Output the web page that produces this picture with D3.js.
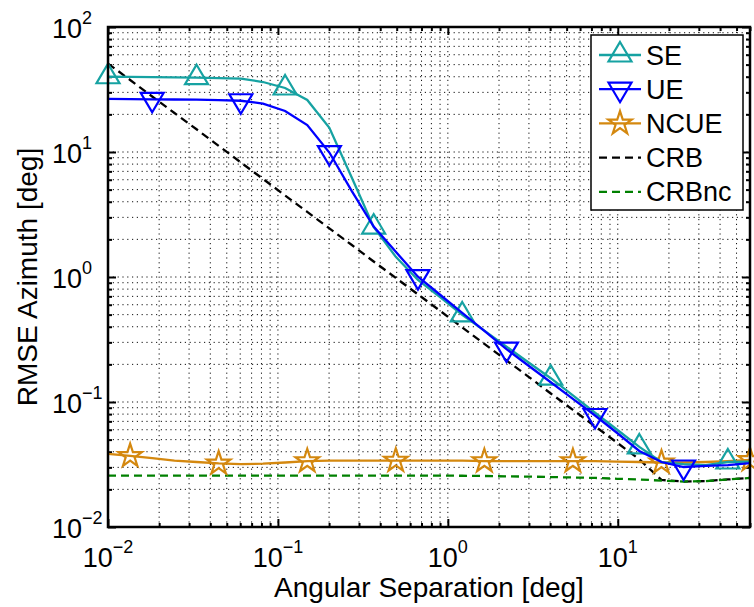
<!DOCTYPE html>
<html>
<head>
<meta charset="utf-8">
<script src="https://cdn.jsdelivr.net/npm/d3@7"></script>
<style>
  body { margin: 0; background: #fff; }
  text { font-family: "Liberation Sans", Arial, Helvetica, sans-serif; fill: #000; }
</style>
</head>
<body>
<svg id="chart" width="754" height="607"></svg>
<script>
// angular separation [deg], 30 points from 0.01 to 60
const sepDeg = [0.0100, 0.0135, 0.0182, 0.0246, 0.0332, 0.0448, 0.0605, 0.0817, 0.1102, 0.1488,
                0.2008, 0.2711, 0.3659, 0.4939, 0.6667, 0.9000, 1.2148, 1.6399, 2.2135, 2.9879,
                4.0332, 5.4440, 7.3486, 9.9191, 13.389, 18.074, 24.397, 32.932, 44.452, 60.000];

const seVals = [40.0, 39.9, 39.7, 39.5, 39.3, 39.0, 38.6, 36.3, 32.5, 26.1,
                15.6, 6.3, 2.51, 1.45, 0.946, 0.69, 0.497, 0.372, 0.277, 0.207,
                0.155, 0.113, 0.082, 0.060, 0.0437, 0.0331, 0.0319, 0.0313, 0.0331, 0.0334];

const ueVals = [26.6, 26.5, 26.4, 26.3, 26.2, 26.0, 25.7, 24.4, 21.3, 16.4,
                9.9, 4.91, 2.53, 1.59, 1.006, 0.721, 0.516, 0.371, 0.265, 0.195,
                0.144, 0.106, 0.078, 0.0565, 0.0406, 0.0331, 0.0302, 0.0308, 0.0313, 0.0324];

const ncueVals = [0.0384, 0.0370, 0.0356, 0.0340, 0.0331, 0.0323, 0.0319, 0.0321, 0.0328, 0.0337,
                  0.0340, 0.0340, 0.0340, 0.0340, 0.0340, 0.0340, 0.0340, 0.0337, 0.0337, 0.0337,
                  0.0337, 0.0337, 0.0337, 0.0334, 0.0331, 0.0328, 0.0328, 0.0331, 0.0337, 0.0344];

const crbVals = [51.0, 37.7, 27.8, 20.5, 15.2, 11.2, 8.25, 6.09, 4.49, 3.32,
                 2.45, 1.81, 1.33, 0.984, 0.726, 0.536, 0.395, 0.292, 0.215, 0.159,
                 0.117, 0.0866, 0.0639, 0.0472, 0.0348, 0.0238, 0.0231, 0.0233, 0.0240, 0.0247];

const crbncVals = [0.0258, 0.0258, 0.0258, 0.0258, 0.0258, 0.0258, 0.0258, 0.0258, 0.0258, 0.0258,
                   0.0258, 0.0258, 0.0258, 0.0258, 0.0258, 0.0258, 0.0257, 0.0256, 0.0254, 0.0253,
                   0.0251, 0.0249, 0.0247, 0.0243, 0.0240, 0.0235, 0.0231, 0.0233, 0.0240, 0.0247];

// which points carry a marker
const seMarks = [0, 4, 8, 12, 16, 20, 24, 28];
const ncueMarks = [1, 5, 9, 13, 17, 21, 25, 29];
const ueMarks = [2, 6, 10, 14, 18, 22, 26];

const xMajor = [0.01, 0.1, 1, 10];
const xExp = ["−2", "−1", "0", "1"];
const yMajor = [0.01, 0.1, 1, 10, 100];
const yExp = ["−2", "−1", "0", "1", "2"];

const svg = d3.select("#chart");
const pLeft = 108, pRight = 750, pTop = 27, pBottom = 527;

const x = d3.scaleLog().domain([0.01, 60]).range([pLeft, pRight]);
const y = d3.scaleLog().domain([0.01, 100]).range([pBottom, pTop]);

// minor + major grid positions
function logTicks(lo, hi) {
  const out = [];
  for (let e = Math.floor(Math.log10(lo)); e <= Math.ceil(Math.log10(hi)); e++) {
    for (let k = 1; k <= 9; k++) {
      const v = k * Math.pow(10, e);
      if (v >= lo * 0.9999 && v <= hi * 1.0001) out.push(v);
    }
  }
  return out;
}
const xGrid = logTicks(0.01, 60);
const yGrid = logTicks(0.01, 100);
const xMinor = xGrid.filter(v => !xMajor.some(m => Math.abs(m - v) < 1e-9));
const yMinor = yGrid.filter(v => !yMajor.some(m => Math.abs(m - v) < 1e-9));

// dotted grid at every decade and sub-decade
const grid = svg.append("g");
grid.selectAll(".gx").data(xGrid).enter().append("line")
  .attr("x1", d => x(d)).attr("x2", d => x(d))
  .attr("y1", pTop).attr("y2", pBottom)
  .attr("stroke", "#111").attr("stroke-width", 1)
  .attr("stroke-dasharray", "1.2,3.6");
grid.selectAll(".gy").data(yGrid).enter().append("line")
  .attr("y1", d => y(d)).attr("y2", d => y(d))
  .attr("x1", pLeft).attr("x2", pRight)
  .attr("stroke", "#111").attr("stroke-width", 1)
  .attr("stroke-dasharray", "1.2,3.6");

// axes (ticks inside, box on)
function tickAxis(axis, vals, size, transform) {
  svg.append("g").attr("transform", transform)
    .call(axis.tickValues(vals).tickSize(size).tickFormat(""))
    .call(g => g.select(".domain").remove())
    .selectAll("line").attr("stroke", "#000").attr("stroke-width", 2);
}
tickAxis(d3.axisBottom(x), xMajor, -8, `translate(0,${pBottom})`);
tickAxis(d3.axisBottom(x), xMinor, -4, `translate(0,${pBottom})`);
tickAxis(d3.axisTop(x), xMajor, -8, `translate(0,${pTop})`);
tickAxis(d3.axisTop(x), xMinor, -4, `translate(0,${pTop})`);
tickAxis(d3.axisLeft(y), yMajor, -8, `translate(${pLeft},0)`);
tickAxis(d3.axisLeft(y), yMinor, -4, `translate(${pLeft},0)`);
tickAxis(d3.axisRight(y), yMajor, -8, `translate(${pRight},0)`);
tickAxis(d3.axisRight(y), yMinor, -4, `translate(${pRight},0)`);

// tick labels with superscripts
xMajor.forEach((v, i) => {
  const t = svg.append("text").attr("x", x(v)).attr("y", 567)
    .attr("text-anchor", "middle").attr("font-size", 27);
  t.append("tspan").text("10");
  t.append("tspan").attr("dy", -14).attr("font-size", 18).text(xExp[i]);
});
yMajor.forEach((v, i) => {
  const t = svg.append("text").attr("x", 52).attr("y", y(v) + 10.5)
    .attr("text-anchor", "start").attr("font-size", 27);
  t.append("tspan").text("10");
  t.append("tspan").attr("dy", -14).attr("font-size", 18).text(yExp[i]);
});

svg.append("text").attr("x", (pLeft + pRight) / 2).attr("y", 597)
  .attr("text-anchor", "middle").attr("font-size", 28)
  .text("Angular Separation [deg]");
svg.append("text").attr("transform", `translate(37,${(pTop + pBottom) / 2}) rotate(-90)`)
  .attr("text-anchor", "middle").attr("font-size", 28)
  .text("RMSE Azimuth [deg]");

// series
const series = [
  { name: "SE", vals: seVals, color: "#16A2A2", dash: null, marker: "up", marks: seMarks },
  { name: "UE", vals: ueVals, color: "#0000FF", dash: null, marker: "down", marks: ueMarks },
  { name: "NCUE", vals: ncueVals, color: "#D4880F", dash: null, marker: "star", marks: ncueMarks },
  { name: "CRB", vals: crbVals, color: "#000000", dash: "8,5", marker: null, marks: [] },
  { name: "CRBnc", vals: crbncVals, color: "#008000", dash: "8,5", marker: null, marks: [] }
];

const line = d3.line().x(d => x(d[0])).y(d => y(d[1]));

function markerPath(type) {
  if (type === "up") return "M0,-13L11.5,6.5L-11.5,6.5Z";
  if (type === "down") return "M0,13L11.5,-6.5L-11.5,-6.5Z";
  if (type === "star") return d3.symbol().type(d3.symbolStar).size(170)();
  return null;
}

// draw order: dashed bounds first, then estimators
[series[3], series[4], series[2], series[0], series[1]].forEach(s => {
  const pts = sepDeg.map((v, i) => [v, s.vals[i]]);
  svg.append("path").datum(pts)
    .attr("d", line)
    .attr("fill", "none")
    .attr("stroke", s.color)
    .attr("stroke-width", 2.3)
    .attr("stroke-dasharray", s.dash);
  if (s.marker) {
    svg.selectAll(null).data(s.marks.map(i => pts[i])).enter().append("path")
      .attr("d", markerPath(s.marker))
      .attr("transform", d => `translate(${x(d[0])},${y(d[1])})`)
      .attr("fill", "none")
      .attr("stroke", s.color)
      .attr("stroke-width", 2.2);
  }
});

// plot box
svg.append("rect").attr("x", pLeft).attr("y", pTop)
  .attr("width", pRight - pLeft).attr("height", pBottom - pTop)
  .attr("fill", "none").attr("stroke", "#000").attr("stroke-width", 2.5);

// legend
const lg = svg.append("g");
lg.append("rect").attr("x", 591).attr("y", 35).attr("width", 152).attr("height", 175)
  .attr("fill", "#fff").attr("stroke", "#000").attr("stroke-width", 1.5);
series.forEach((s, i) => {
  const cy = 55 + i * 34.2;
  lg.append("line").attr("x1", 599).attr("x2", 641).attr("y1", cy).attr("y2", cy)
    .attr("stroke", s.color).attr("stroke-width", 2.3)
    .attr("stroke-dasharray", s.dash);
  if (s.marker) {
    lg.append("path").attr("d", markerPath(s.marker))
      .attr("transform", `translate(620,${cy})`)
      .attr("fill", "none").attr("stroke", s.color).attr("stroke-width", 2.2);
  }
  lg.append("text").attr("x", 646).attr("y", cy + 9.5)
    .attr("font-size", 27).text(s.name);
});
</script>
</body>
</html>
